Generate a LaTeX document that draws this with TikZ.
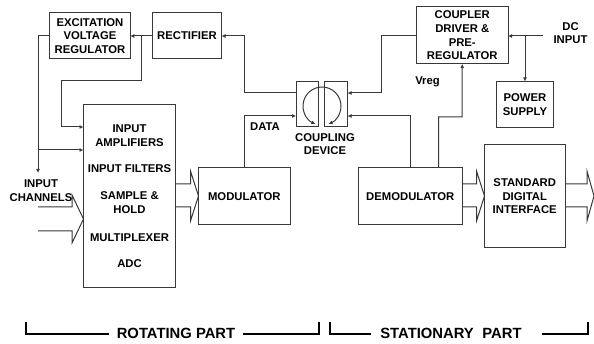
\documentclass[tikz,border=0pt]{standalone}
\usepackage{fontspec}
\setmainfont{Liberation Sans}
\usetikzlibrary{arrows.meta, calc}
\definecolor{cline}{HTML}{383838}
\tikzset{
  every picture/.style={x=1pt, y=-1pt, font=\fontsize{11.3}{13.7}\selectfont\bfseries},
  box/.style={draw=cline, line width=1pt, align=center, inner sep=0pt, outer sep=0pt},
  flow/.style={draw=cline, line width=1pt},
  arrow/.style={flow, -{Latex[length=4pt, width=4pt]}},
  label/.style={align=center, inner sep=0pt},
  part/.style={label, font=\fontsize{14.8}{18}\selectfont\bfseries},
  bracket/.style={draw=black, line width=1.1pt},
}
\begin{document}
\begin{tikzpicture}
  \useasboundingbox (0,0) rectangle (594,344);
  % rotating side
  \node[box, minimum width=80.5, minimum height=46] (regulator) at (90,36) {EXCITATION\\VOLTAGE\\REGULATOR};
  \node[box, minimum width=69, minimum height=46] (rectifier) at (187,36) {RECTIFIER};
  \node[box, minimum width=92, minimum height=183] (inpbox) at (129.5,196.5) {INPUT\\AMPLIFIERS\\[12pt]INPUT FILTERS\\[14pt]SAMPLE \&\\HOLD\\[14pt]MULTIPLEXER\\[13pt]ADC};
  \node[box, minimum width=91.5, minimum height=57] (modulator) at (244.25,196.5) {MODULATOR};
  % coupling device
  \node[box, minimum width=22.5, minimum height=45.5] (coupleft) at (307.25,104.25) {};
  \node[box, minimum width=23, minimum height=45.5] (coupright) at (336,104.25) {};
  \draw[arrow] (322,87) arc[start angle=270, end angle=110, radius=19];
  \draw[arrow] (322,87) arc[start angle=-90, end angle=70, radius=19];
  \node[label] (couplabel) at (325,144) {COUPLING\\DEVICE};
  % stationary side
  \node[box, minimum width=91.5, minimum height=57] (driver) at (462.25,35.5) {COUPLER\\DRIVER \&\\PRE-\\REGULATOR};
  \node[box, minimum width=57, minimum height=46] (supply) at (525,104.5) {POWER\\SUPPLY};
  \node[box, minimum width=103.5, minimum height=57] (demodulator) at (410.25,196.5) {DEMODULATOR};
  \node[box, minimum width=80.5, minimum height=103.5] (interface) at (524.75,196.25) {STANDARD\\DIGITAL\\INTERFACE};
  % labels
  \node[label] (datalabel) at (265,127) {DATA};
  \node[label] (vreglabel) at (427.5,82) {Vreg};
  \node[label] (dclabel) at (570.5,33) {DC\\INPUT};
  \node[label] (chanlabel) at (41,190.5) {INPUT\\CHANNELS};
  % free ends and branch points
  \coordinate (dcin) at (543,36);
  \coordinate (dctap) at (525,36);
  \coordinate (rectap) at (141,36);
  \coordinate (chanend) at (38,173);
  \coordinate (chantap) at (38,150);
  \coordinate (inone) at (38,207);
  \coordinate (intwo) at (38,231);
  \coordinate (outend) at (594,196);
  % connectors
  \draw[arrow] (rectifier.west) -- (regulator.east);
  \draw[arrow] (coupleft.west |- 0,93) -- (244,93) |- (rectifier.east);
  \draw[arrow] (rectap) |- (61,81) |- (inpbox.west |- 0,127);
  \draw[arrow] (regulator.west) -| (chanend);
  \draw[arrow] (chantap) -- (inpbox.west |- chantap);
  \draw[arrow] (modulator.north) |- (coupleft.west |- 0,116);
  \draw[arrow] (driver.west) -| (381,93) -- (coupright.east |- 0,93);
  \draw[arrow] (demodulator.north) |- (coupright.east |- 0,116);
  \draw[arrow] (438.5,168) |- (462,117) -- (driver.south);
  \draw[arrow] (dcin) -- (driver.east |- dcin);
  \draw[arrow] (dctap) -- (supply.north);
  % wide bus arrows
  \foreach \src/\dst/\off in {inpbox.east/modulator.west/8, demodulator.east/interface.west/8, interface.east/outend/7} {
    \draw[flow] (\src |- 0,184) -- ($(\dst |- 0,184)+(-\off,0)$) -- ($(\dst |- 0,171)+(-\off,0)$) -- (\dst |- 0,196) -- ($(\dst |- 0,221)+(-\off,0)$) -- ($(\dst |- 0,207)+(-\off,0)$) -- (\src |- 0,207);
  }
  \draw[flow] (inone) -- (72,207) -- (72,195) -- (inpbox.west |- 0,219) -- (72,243) -- (72,231) -- (intwo);
  % part brackets
  \node[part] (rotating) at (176,333) {ROTATING PART};
  \node[part] (stationary) at (451,333) {STATIONARY\hspace{4.5pt} PART};
  \draw[bracket] (26,322) -- (26,334) -- ($(rotating.west |- 0,334)+(-8,0)$);
  \draw[bracket] ($(rotating.east |- 0,334)+(8,0)$) -- (319,334) -- (319,322);
  \draw[bracket] (330,322) -- (330,334) -- ($(stationary.west |- 0,334)+(-9,0)$);
  \draw[bracket] ($(stationary.east |- 0,334)+(20,0)$) -- (588,334) -- (588,322);
\end{tikzpicture}
\end{document}
